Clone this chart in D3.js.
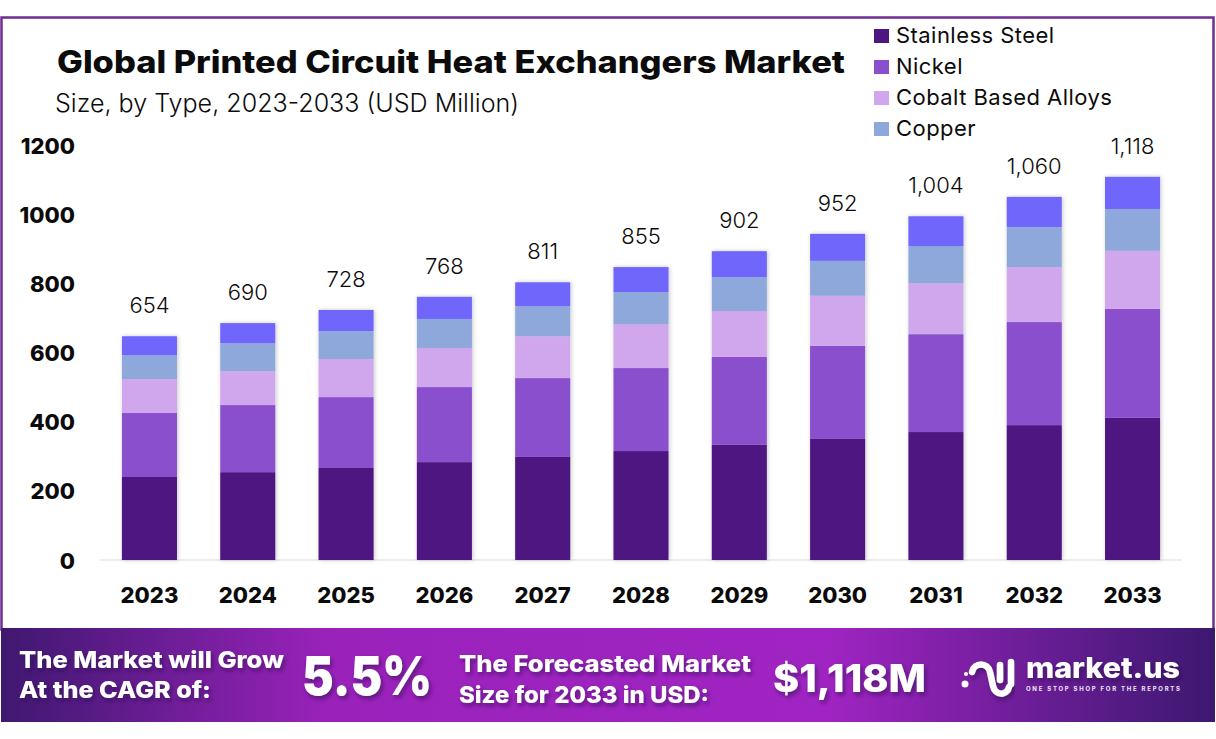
<!DOCTYPE html>
<html>
<head>
<meta charset="utf-8">
<script src="https://cdn.jsdelivr.net/npm/d3@7"></script>
<style>
  html, body { margin: 0; padding: 0; background: #fff; }
  svg { display: block; }
  text { font-family: Inter, "Noto Sans", sans-serif; fill: #0b0b0b; }
</style>
</head>
<body>
<div id="chart"></div>
<script>
const years = ['2023', '2024', '2025', '2026', '2027', '2028', '2029', '2030', '2031', '2032', '2033'];
const totals = [654, 690, 728, 768, 811, 855, 902, 952, 1004, 1060, 1118];
const stainlessSteel = [240, 254, 266, 283, 298, 315, 333, 350, 370, 390, 411];
const nickel = [185, 194, 205, 217, 228, 240, 254, 269, 283, 298, 315];
const cobaltBasedAlloys = [98, 98, 110, 113, 121, 127, 133, 145, 147, 159, 168];
const copper = [69, 81, 81, 84, 87, 93, 98, 101, 107, 116, 121];
const others = [55, 58, 61, 64, 69, 72, 75, 78, 87, 87, 93];
const yTicks = [0, 200, 400, 600, 800, 1000, 1200];
const legendLabels = ['Stainless Steel', 'Nickel', 'Cobalt Based Alloys', 'Copper'];
const colors = ['#4e1680', '#8a4fcd', '#d0a6ec', '#8fa8dc', '#6f66fb'];

const width = 1216, height = 739;

const svg = d3.select('#chart').append('svg')
  .attr('width', width)
  .attr('height', height);

const defs = svg.append('defs');

let grad = defs.append('linearGradient').attr('id', 'banner');
grad.append('stop').attr('offset', '0%').attr('stop-color', '#3f1870');
grad.append('stop').attr('offset', '27%').attr('stop-color', '#9a22bb');
grad.append('stop').attr('offset', '68%').attr('stop-color', '#a024c2');
grad.append('stop').attr('offset', '100%').attr('stop-color', '#3c1870');

let blur = defs.append('filter').attr('id', 'barShadow')
  .attr('x', '-20%').attr('width', '140%');
blur.append('feDropShadow')
  .attr('dx', 1).attr('dy', 0).attr('stdDeviation', 2)
  .attr('flood-color', '#000').attr('flood-opacity', 0.22);

let textShadow = defs.append('filter').attr('id', 'textShadow')
  .attr('x', '-10%').attr('width', '120%').attr('y', '-20%').attr('height', '150%');
textShadow.append('feDropShadow')
  .attr('dx', 2).attr('dy', 3).attr('stdDeviation', 2)
  .attr('flood-color', '#2a0a50').attr('flood-opacity', 0.6);

// frame around the chart
svg.append('rect')
  .attr('x', 1.5).attr('y', 17.5)
  .attr('width', 1212).attr('height', 612)
  .attr('fill', '#fff')
  .attr('stroke', '#6f2c91')
  .attr('stroke-width', 2.5);

const x = d3.scaleBand()
  .domain(years)
  .range([100.3, 1181.7])
  .paddingInner(0.44)
  .paddingOuter(0.22);

const y = d3.scaleLinear()
  .domain([0, 1200])
  .range([560, 145]);

const rows = years.map((year, i) => ({
  year: year,
  stainlessSteel: stainlessSteel[i],
  nickel: nickel[i],
  cobaltBasedAlloys: cobaltBasedAlloys[i],
  copper: copper[i],
  others: others[i],
  total: totals[i]
}));

const keys = ['stainlessSteel', 'nickel', 'cobaltBasedAlloys', 'copper', 'others'];
const stacked = d3.stack().keys(keys)(rows);

// baseline
svg.append('line')
  .attr('x1', 100).attr('x2', 1182)
  .attr('y1', y(0)).attr('y2', y(0))
  .attr('stroke', '#d9d9d9');

const barGroup = svg.append('g').attr('filter', 'url(#barShadow)');
barGroup.selectAll('g')
  .data(stacked)
  .join('g')
  .attr('fill', (d, i) => colors[i])
  .selectAll('rect')
  .data(d => d)
  .join('rect')
  .attr('x', d => x(d.data.year))
  .attr('width', x.bandwidth())
  .attr('y', d => y(d[1]))
  .attr('height', d => y(d[0]) - y(d[1]));

// totals above the bars
svg.append('g').selectAll('text')
  .data(rows)
  .join('text')
  .attr('x', d => x(d.year) + x.bandwidth() / 2)
  .attr('y', d => y(d3.sum(keys, k => d[k])) - 23)
  .attr('text-anchor', 'middle')
  .attr('font-size', 22)
  .attr('font-weight', 350)
  .text(d => d3.format(',')(d.total));

// axes
const yAxis = svg.append('g')
  .attr('transform', 'translate(75,1)')
  .call(d3.axisLeft(y).tickValues(yTicks).tickSize(0).tickPadding(0).tickFormat(d => d));
yAxis.select('.domain').remove();
yAxis.selectAll('text')
  .attr('font-size', 22)
  .attr('font-weight', 800)
  .style('fill', '#0b0b0b')
  .style('font-family', 'Inter');

const xAxis = svg.append('g')
  .attr('transform', 'translate(0,' + y(0) + ')')
  .call(d3.axisBottom(x).tickSize(0).tickPadding(27));
xAxis.select('.domain').remove();
xAxis.selectAll('text')
  .attr('font-size', 22)
  .attr('font-weight', 800)
  .style('fill', '#0b0b0b')
  .style('font-family', 'Inter');

// title
svg.append('text')
  .attr('x', 57).attr('y', 73)
  .attr('font-size', 31)
  .attr('font-weight', 800)
  .attr('textLength', 788)
  .attr('lengthAdjust', 'spacingAndGlyphs')
  .text('Global Printed Circuit Heat Exchangers Market');

svg.append('text')
  .attr('x', 55).attr('y', 112)
  .attr('font-size', 25)
  .attr('font-weight', 300)
  .attr('textLength', 464)
  .attr('lengthAdjust', 'spacingAndGlyphs')
  .text('Size, by Type, 2023-2033 (USD Million)');

// legend
const legendY = d3.scalePoint().domain(legendLabels).range([36, 129]);
const legend = svg.append('g').selectAll('g')
  .data(legendLabels)
  .join('g')
  .attr('transform', d => 'translate(874,' + legendY(d) + ')');
legend.append('rect')
  .attr('y', -7).attr('width', 15).attr('height', 14)
  .attr('fill', (d, i) => colors[i]);
legend.append('text')
  .attr('x', 22).attr('y', 7)
  .attr('font-size', 22)
  .attr('font-weight', 400)
  .attr('letter-spacing', 0.45)
  .text(d => d);

// banner
svg.append('rect')
  .attr('x', 1).attr('y', 628)
  .attr('width', 1214).attr('height', 94)
  .attr('fill', 'url(#banner)');

const bannerText = (txt, px, py, size, len) => svg.append('text')
  .attr('x', px).attr('y', py)
  .attr('font-size', size)
  .attr('font-weight', 800)
  .attr('textLength', len)
  .attr('lengthAdjust', 'spacingAndGlyphs')
  .style('fill', '#fff')
  .attr('filter', 'url(#textShadow)')
  .text(txt);

bannerText('The Market will Grow', 19, 668, 23, 265);
bannerText('At the CAGR of:', 19, 698, 23, 192);
bannerText('5.5%', 302, 695, 54, 130).attr('font-weight', 900);
bannerText('The Forecasted Market', 459, 672, 23, 292);
bannerText('Size for 2033 in USD:', 459, 703, 23, 250);
bannerText('$1,118M', 773, 692, 38, 153);
bannerText('market.us', 1026, 678, 29, 154);

svg.append('text')
  .attr('x', 1026).attr('y', 691)
  .attr('font-size', 6)
  .attr('font-weight', 700)
  .attr('textLength', 154)
  .attr('lengthAdjust', 'spacing')
  .style('fill', '#f3e6fa')
  .text('ONE STOP SHOP FOR THE REPORTS');

// logo mark
const logo = svg.append('g')
  .attr('fill', 'none')
  .attr('stroke', '#fff')
  .attr('stroke-width', 6.5)
  .attr('stroke-linecap', 'round')
  .attr('filter', 'url(#textShadow)');
logo.append('path').attr('d', 'M972 672c2-10 16-10 18 0l3 14c2 10 14 10 16 1');
logo.append('path').attr('d', 'M1000 665v15');
logo.append('path').attr('d', 'M1011 662v22');
svg.append('circle').attr('cx', 965).attr('cy', 684).attr('r', 3.5).attr('fill', '#fff');
svg.append('circle').attr('cx', 966).attr('cy', 674).attr('r', 2).attr('fill', '#fff');
</script>
</body>
</html>
